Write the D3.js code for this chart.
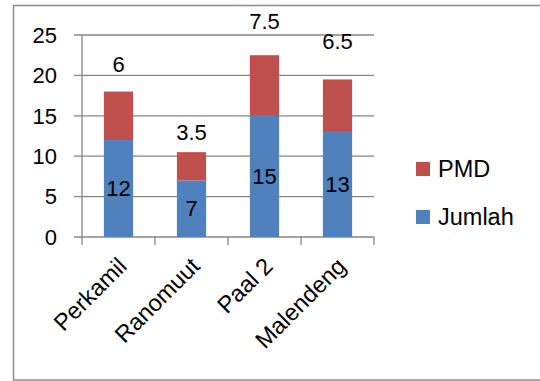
<!DOCTYPE html>
<html><head><meta charset="utf-8">
<script src="https://cdn.jsdelivr.net/npm/d3@7"></script>
<style>body{margin:0;background:#fff}svg{display:block}text{font-family:"Liberation Sans",Arial,sans-serif;fill:#000}</style>
</head><body><svg id="c" width="540" height="381"></svg>
<script>
const categories = ["Perkamil", "Ranomuut", "Paal 2", "Malendeng"];
const jumlah = [12, 7, 15, 13];
const pmd = [6, 3.5, 7.5, 6.5];
const pmdLabelAt = [21.4, 12.9, 26.7, 24.2];
const yTicks = [0, 5, 10, 15, 20, 25];
const seriesNames = ["PMD", "Jumlah"];
const colors = {Jumlah: "#4F81BD", PMD: "#C0504D"};

const svg = d3.select("#c");
const fs = 22, fsText = 23.5;
svg.append("rect").attr("x", 13.5).attr("y", 5.5).attr("width", 540).attr("height", 374.5)
  .attr("fill", "none").attr("stroke", "#8c8c8c").attr("stroke-width", 1.5);

const x = d3.scaleBand().domain(categories).range([82, 374]).paddingInner(0.6).paddingOuter(0.3);
const y = d3.scaleLinear().domain([0, 25]).range([237, 35]);

const g = svg.append("g");
g.selectAll(".grid").data(yTicks).join("line")
  .attr("x1", 74).attr("x2", 374).attr("y1", d => y(d)).attr("y2", d => y(d))
  .attr("stroke", "#868686").attr("stroke-width", 1.3);
g.append("line").attr("x1", 82).attr("x2", 82).attr("y1", y(25)).attr("y2", y(0))
  .attr("stroke", "#868686").attr("stroke-width", 1.3);
const bounds = categories.map(c => x(c) - x.step() * 0.3).concat([374]);
g.selectAll(".xt").data(bounds).join("line")
  .attr("x1", d => d).attr("x2", d => d).attr("y1", y(0)).attr("y2", y(0) + 8)
  .attr("stroke", "#868686").attr("stroke-width", 1.3);
g.selectAll(".yl").data(yTicks).join("text")
  .attr("x", 57).attr("y", d => y(d)).attr("dy", "0.35em").attr("text-anchor", "end")
  .attr("font-size", fs).text(d => d);

const stack = d3.stack().keys(["Jumlah", "PMD"])(categories.map((c, i) => ({cat: c, Jumlah: jumlah[i], PMD: pmd[i]})));
stack.forEach(s => {
  g.selectAll(".b" + s.key).data(s).join("rect")
    .attr("x", d => x(d.data.cat)).attr("width", x.bandwidth())
    .attr("y", d => y(d[1])).attr("height", d => y(d[0]) - y(d[1]))
    .attr("fill", colors[s.key]);
});
g.selectAll(".jl").data(categories).join("text")
  .attr("x", d => x(d) + x.bandwidth() / 2).attr("y", (d, i) => y(jumlah[i] / 2)).attr("dy", "0.35em")
  .attr("text-anchor", "middle").attr("font-size", fs).text((d, i) => jumlah[i]);
g.selectAll(".pl").data(categories).join("text")
  .attr("x", d => x(d) + x.bandwidth() / 2).attr("y", (d, i) => y(pmdLabelAt[i])).attr("dy", "0.35em")
  .attr("text-anchor", "middle").attr("font-size", fs).text((d, i) => pmd[i]);
g.selectAll(".xl").data(categories).join("text")
  .attr("transform", d => `translate(${x(d) + x.bandwidth() / 2 - 2},${y(0) + 19}) rotate(-45)`)
  .attr("text-anchor", "end").attr("dy", "0.7em").attr("font-size", fsText).text(d => d);
const leg = svg.append("g");
seriesNames.forEach((n, i) => {
  const cy = 169 + i * 48;
  leg.append("rect").attr("x", 416).attr("y", cy - 7).attr("width", 14).attr("height", 14).attr("fill", colors[n]);
  leg.append("text").attr("x", 438).attr("y", cy).attr("dy", "0.35em").attr("font-size", fsText).text(n);
});
</script></body></html>
